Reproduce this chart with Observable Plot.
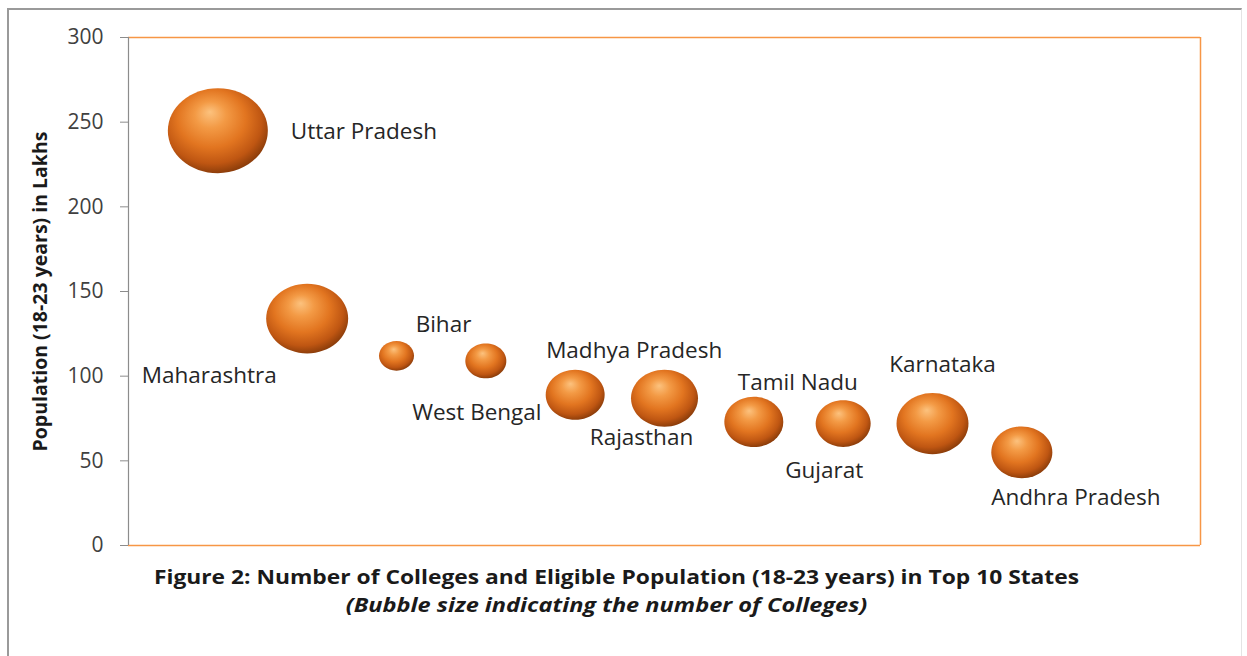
<!DOCTYPE html>
<html>
<head>
<meta charset="utf-8">
<script src="https://cdn.jsdelivr.net/npm/d3@7"></script>
<script src="https://cdn.jsdelivr.net/npm/@observablehq/plot@0.6"></script>
<style>
  html, body { margin: 0; padding: 0; background: #fff; }
  #wrap { position: relative; width: 1247px; height: 656px; overflow: hidden; background: #fff; font-family: "Open Sans", sans-serif; }
  #border { position: absolute; left: 7px; top: 8px; width: 1232px; height: 700px; border-left: 2px solid #9a9a9a; border-top: 2px solid #9a9a9a; border-right: 1px solid #e4e4e4; }
  #chart { position: absolute; left: 0; top: 0; }
  .cap { position: absolute; width: 1247px; text-align: center; color: #1a1a1a; font-weight: bold; white-space: nowrap; transform-origin: 50% 50%; }
  #cap1 { top: 564px; left: -7.5px; font-size: 19px; transform: scaleX(1.2); }
  #cap2 { top: 592px; left: -17.5px; font-size: 19px; font-style: italic; transform: scaleX(1.24); }
</style>
</head>
<body>
<div id="wrap">
  <div id="border"></div>
  <div id="chart"></div>
  <div id="cap1" class="cap">Figure 2: Number of Colleges and Eligible Population (18-23 years) in Top 10 States</div>
  <div id="cap2" class="cap">(Bubble size indicating the number of Colleges)</div>
</div>
<script>
// ---- data ----
const states = ["Uttar Pradesh", "Maharashtra", "Bihar", "West Bengal", "Madhya Pradesh", "Rajasthan", "Tamil Nadu", "Gujarat", "Karnataka", "Andhra Pradesh"];
const population = [245, 134, 112, 109, 89, 87, 73, 72, 72, 55];   // lakhs, 18-23 years
const colleges = [4400, 2960, 540, 740, 1530, 1975, 1530, 1330, 2280, 1640]; // bubble size
const yTicks = [0, 50, 100, 150, 200, 250, 300];
const yTitle = "Population (18-23 years) in Lakhs";

// ---- label placement (layout only) ----
const labelDx = [73, -98, 47, -9, 59, -23, 44, -19, 10, 54];
const labelDy = [1, 57, -31, 52, -44, 40, -39, 47, -59, 45];
const labelAnchor = ["start", "middle", "middle", "middle", "middle", "middle", "middle", "middle", "middle", "middle"];

const data = states.map((s, i) => ({ state: s, pos: i + 1, pop: population[i], col: colleges[i] }));

// ellipse-shaped bubble symbol (slightly wider than tall)
const K = 0.5523;
const ellipse = {
  draw(ctx, size) {
    const r = Math.sqrt(size / Math.PI), rx = r, ry = r * 0.85;
    ctx.moveTo(rx, 0);
    ctx.bezierCurveTo(rx, ry * K, rx * K, ry, 0, ry);
    ctx.bezierCurveTo(-rx * K, ry, -rx, ry * K, -rx, 0);
    ctx.bezierCurveTo(-rx, -ry * K, -rx * K, -ry, 0, -ry);
    ctx.bezierCurveTo(rx * K, -ry, rx, -ry * K, rx, 0);
    ctx.closePath();
  }
};

const orange = "#f79646";

const plot = Plot.plot({
  width: 1247,
  height: 560,
  marginLeft: 128,
  marginRight: 47,
  marginTop: 37,
  marginBottom: 15,
  style: { fontFamily: "'Open Sans', sans-serif", background: "transparent", overflow: "visible" },
  x: { domain: [0, 12], axis: null },
  y: { domain: [0, 300], axis: null },
  r: { type: "sqrt", domain: [0, 4400], range: [0, 50] },
  marks: [
    Plot.ruleY([300], { stroke: orange, strokeWidth: 1.5 }),
    Plot.ruleY([0], { stroke: orange, strokeWidth: 1.5 }),
    Plot.ruleX([12], { stroke: orange, strokeWidth: 1.5 }),
    Plot.ruleX([0], { stroke: "#8c8c8c", strokeWidth: 1.2 }),
    Plot.axisY({ ticks: yTicks, tickSize: 8, tickPadding: 17, fontSize: 21, stroke: "#8c8c8c", fill: "#404040", label: null, tickFormat: d => String(d) }),
    Plot.text([yTitle], { frameAnchor: "left", textAnchor: "middle", dx: -88, rotate: -90, fontWeight: "bold", fontSize: 19.5, fill: "#1a1a1a" }),
    Plot.dot(data, { x: "pos", y: "pop", r: "col", symbol: ellipse, fill: "url(#bubbleGrad)", stroke: "none" }),
    ...data.map((d, i) => Plot.text([d], {
      x: "pos", y: "pop", text: "state",
      dx: labelDx[i], dy: labelDy[i], textAnchor: labelAnchor[i],
      fontSize: 22.5, fill: "#262626"
    }))
  ]
});

// radial gradient for the 3D bubble look
const ns = "http://www.w3.org/2000/svg";
const defs = document.createElementNS(ns, "defs");
defs.innerHTML = `
  <radialGradient id="bubbleGrad" cx="0.45" cy="0.42" r="0.62" fx="0.42" fy="0.28">
    <stop offset="0" stop-color="#fcc27e"/>
    <stop offset="0.25" stop-color="#f39a45"/>
    <stop offset="0.55" stop-color="#e27520"/>
    <stop offset="0.8" stop-color="#bf5612"/>
    <stop offset="1" stop-color="#7e3608"/>
  </radialGradient>`;
plot.insertBefore(defs, plot.firstChild);

document.getElementById("chart").appendChild(plot);
</script>
</body>
</html>
